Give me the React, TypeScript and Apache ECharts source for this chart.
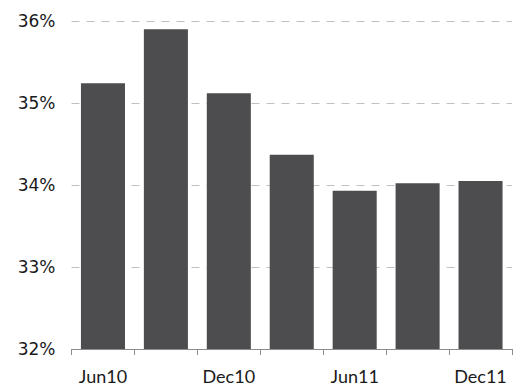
import React, { useEffect, useRef } from "react";
import * as echarts from "echarts";

const categories = ["Jun10", "Sep10", "Dec10", "Mar11", "Jun11", "Sep11", "Dec11"];
const values = [35.24, 35.9, 35.12, 34.37, 33.93, 34.02, 34.05];
const yMin = 32;
const yMax = 36;
const yStep = 1;

export default function App() {
  const ref = useRef<HTMLDivElement>(null);
  useEffect(() => {
    if (!ref.current) return;
    const chart = echarts.init(ref.current, null, { renderer: "svg" });
    chart.setOption({
      animation: false,
      backgroundColor: "#ffffff",
      grid: { left: 71.5, right: 2, top: 21, bottom: 37, containLabel: false },
      xAxis: {
        type: "category",
        data: categories,
        boundaryGap: true,
        axisLine: { show: true, lineStyle: { color: "#8c8c8c", width: 1 } },
        axisTick: { show: true, interval: 0, length: 6, lineStyle: { color: "#8c8c8c" } },
        axisLabel: {
          interval: 1,
          margin: 18,
          fontFamily: "Lato",
          fontSize: 18,
          color: "#1a1a1a",
        },
        splitLine: { show: false },
      },
      yAxis: {
        type: "value",
        min: yMin,
        max: yMax,
        interval: yStep,
        axisLine: { show: false },
        axisTick: { show: false },
        axisLabel: {
          formatter: (v: number) => `${v}%`,
          fontFamily: "DejaVu Sans",
          fontSize: 17,
          color: "#1a1a1a",
          margin: 16,
          verticalAlign: "middle",
          padding: [5, 0, 0, 0],
        },
        splitLine: {
          show: true,
          lineStyle: { color: "#c0c0c0", type: [8, 7], width: 1 },
        },
      },
      series: [
        {
          type: "bar",
          data: values,
          barWidth: "70%",
          itemStyle: { color: "#4d4d4f" },
        },
      ],
    });
    return () => chart.dispose();
  }, []);
  return <div ref={ref} style={{ width: 514, height: 386, position: "absolute", left: 0, top: 0 }} />;
}
